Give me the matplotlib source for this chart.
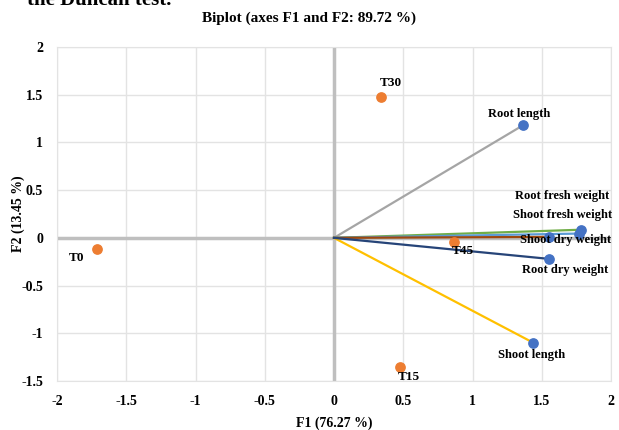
import matplotlib.pyplot as plt

plt.rcParams['font.family'] = ['Liberation Serif', 'DejaVu Serif']
plt.rcParams['font.weight'] = 'bold'
plt.rcParams['axes.labelweight'] = 'bold'

# observations (F1, F2)
obs_names = ['T0', 'T15', 'T30', 'T45']
obs_f1 = [-1.71, 0.48, 0.34, 0.87]
obs_f2 = [-0.115, -1.35, 1.48, -0.04]

# variables (F1, F2)
var_names = ['Root length', 'Shoot length', 'Root fresh weight', 'Shoot fresh weight',
             'Shoot dry weight', 'Root dry weight']
var_f1 = [1.365, 1.44, 1.78, 1.77, 1.55, 1.55]
var_f2 = [1.18, -1.10, 0.085, 0.045, 0.01, -0.22]
var_colors = ['#A5A5A5', '#FFC000', '#70AD47', '#5B9BD5', '#9E480E', '#264478']

xticks = [-2, -1.5, -1, -0.5, 0, 0.5, 1, 1.5, 2]
yticks = [-1.5, -1, -0.5, 0, 0.5, 1, 1.5, 2]

fig = plt.figure(figsize=(6.19, 4.30), dpi=100)
ax = fig.add_axes([57 / 619, 49 / 430, 554 / 619, 334 / 430])

for x, y, c in zip(var_f1, var_f2, var_colors):
    ax.plot([0, x], [0, y], color=c, lw=1.6, zorder=3)
ax.scatter(var_f1, var_f2, s=45, color='#4472C4', zorder=4)
ax.scatter(obs_f1, obs_f2, s=45, color='#ED7D31', zorder=4)

# label positions relative to the points
var_off = {
    'Root length': (-0.03, 0.12, 'center'),
    'Shoot length': (-0.01, -0.13, 'center'),
    'Root fresh weight': (-0.13, 0.35, 'center'),
    'Shoot fresh weight': (-0.12, 0.19, 'center'),
    'Shoot dry weight': (0.45, -0.03, 'right'),
    'Root dry weight': (0.12, -0.12, 'center'),
}
for n, x, y in zip(var_names, var_f1, var_f2):
    dx, dy, ha = var_off[n]
    ax.text(x + dx, y + dy, n, fontsize=9, ha=ha, va='center', zorder=5)

obs_off = {'T0': (-0.15, -0.1), 'T15': (0.06, -0.11), 'T30': (0.07, 0.14), 'T45': (0.06, -0.1)}
for n, x, y in zip(obs_names, obs_f1, obs_f2):
    dx, dy = obs_off[n]
    ax.text(x + dx, y + dy, n, fontsize=9.5, ha='center', va='center', zorder=5)

ax.axhline(0, color='#BFBFBF', lw=2.5, zorder=2)
ax.axvline(0, color='#BFBFBF', lw=2.5, zorder=2)

ax.set_xlim(-2, 2)
ax.set_ylim(-1.5, 2)
ax.set_xticks(xticks)
ax.set_yticks(yticks)
ax.set_xticklabels([f'{t:g}' for t in xticks])
ax.set_yticklabels([f'{t:g}' for t in yticks])
ax.tick_params(length=0, labelsize=10, pad=10)
ax.grid(color='#E3E3E3', lw=1)
ax.set_axisbelow(True)
for s in ax.spines.values():
    s.set_color('#E3E3E3')

ax.set_xlabel('F1 (76.27 %)', fontsize=10, labelpad=6)
ax.set_ylabel('F2 (13.45 %)', fontsize=10, labelpad=-3)
fig.text(0.5, 0.957, 'Biplot (axes F1 and F2: 89.72 %)', ha='center', va='center', fontsize=11)
fig.text(27 / 619, 1.0, 'the Duncan test.', ha='left', va='center', fontsize=15)

fig.savefig('out.png', dpi=100)
